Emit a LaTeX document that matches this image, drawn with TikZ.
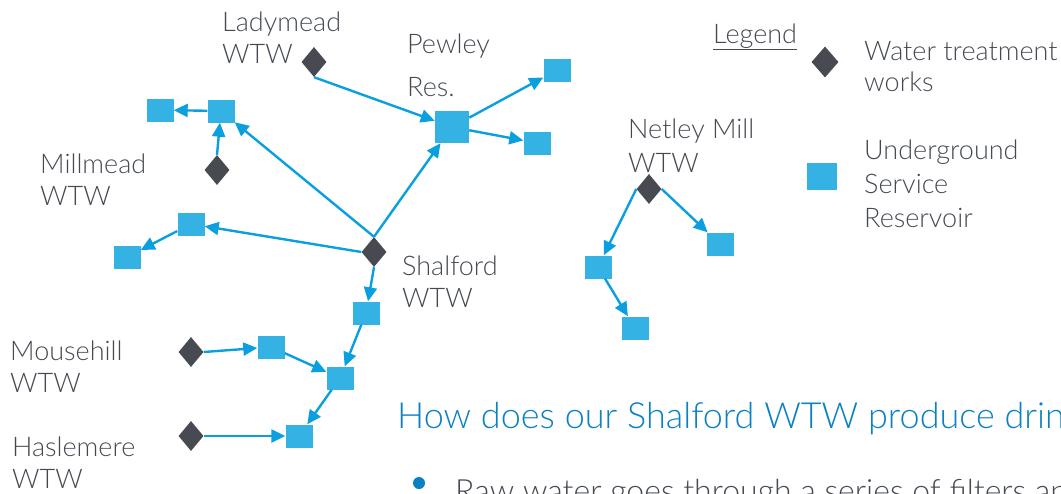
\documentclass[tikz,border=0pt]{standalone}
\usepackage{fontspec}
\setmainfont{Lato Light}
\usetikzlibrary{shapes.geometric,arrows.meta}

\definecolor{wtwgrey}{HTML}{474A50}
\definecolor{resblue}{HTML}{35B2E4}
\definecolor{pipeblue}{HTML}{0AA0E0}
\definecolor{labelgrey}{HTML}{454A52}
\definecolor{titleblue}{HTML}{0B80C2}

\tikzset{
  wtw/.style={diamond, fill=wtwgrey, inner sep=0pt, minimum width=25pt, minimum height=30pt},
  res/.style={rectangle, fill=resblue, inner sep=0pt, minimum width=27pt, minimum height=23pt},
  bigres/.style={res, minimum width=34pt, minimum height=32pt},
  pipe/.style={draw=pipeblue, line width=2.4pt, -{Triangle[length=14pt,width=13pt]}},
  % multi-line labels: the base anchor sits on the last line
  lbl/.style={anchor=base west, inner sep=0pt, align=left, text=labelgrey,
              font=\fontsize{27}{32}\selectfont},
}

\begin{document}
\begin{tikzpicture}[x=1pt,y=-1pt]
\useasboundingbox (0,0) rectangle (1061,493);
\clip (0,0) rectangle (1061,493);

% treatment works
\node[wtw] (lady)   at (314,62)  {};
\node[wtw] (mill)   at (217,170) {};
\node[wtw] (shal)   at (374,252) {};
\node[wtw] (mouse)  at (191,352) {};
\node[wtw] (has)    at (191,436) {};
\node[wtw] (netley) at (649,189) {};

% service reservoirs
\node[bigres] (pewley) at (452,127) {};
\node[res] (pewNE)    at (557,70)  {};
\node[res] (pewE)     at (537,143) {};
\node[res] (nwA)      at (221,111) {};
\node[res] (nwB)      at (160,110) {};
\node[res] (wA)       at (191,224) {};
\node[res] (wB)       at (127,257) {};
\node[res] (sA)       at (366,313) {};
\node[res] (sB)       at (340,378) {};
\node[res] (mouseres) at (271,347) {};
\node[res] (hasres)   at (299,436) {};
\node[res] (nE)       at (720,244) {};
\node[res] (nW)       at (598,267) {};
\node[res] (nS)       at (635,328) {};

% site labels
\node[lbl] (ladylbl)  at (222,63)  {Ladymead\\WTW};
\node[lbl, font=\fontsize{27}{43}\selectfont] (pewlbl) at (407,96) {Pewley\\Res.};
\node[lbl] (milllbl)  at (40,205)  {Millmead\\WTW};
\node[lbl] (shallbl)  at (402,307) {Shalford\\WTW};
\node[lbl] (mouselbl) at (10,392)  {Mousehill\\WTW};
\node[lbl] (haslbl)   at (12,488)  {Haslemere\\WTW};
\node[lbl, font=\fontsize{27}{34}\selectfont] (netlbl) at (628,172) {Netley Mill\\WTW};

% pipes
\draw[pipe] (lady.south) -- (pewley);
\draw[pipe] (pewley) -- (pewNE);
\draw[pipe] (pewley) -- (pewE);
\draw[pipe] (nwA) -- (nwB);
\draw[pipe] (mill.north) -- (nwA);
\draw[pipe] (shal.north) -- (nwA);
\draw[pipe] (shal.north) -- (pewley);
\draw[pipe] (shal.west) -- (wA);
\draw[pipe] (wA) -- (wB);
\draw[pipe] (shal.south) -- (sA);
\draw[pipe] (sA) -- (sB);
\draw[pipe] (mouse.east) -- (mouseres);
\draw[pipe] (mouseres) -- (sB);
\draw[pipe] (sB) -- (hasres);
\draw[pipe] (has.east) -- (hasres);
\draw[pipe] (netley.west) -- (nW);
\draw[pipe] (netley.east) -- (nE);
\draw[pipe] (nW) -- (nS);

% legend
\node[lbl] (legtitle) at (713,43) {\underline{Legend}};
\node[wtw, minimum width=27pt, minimum height=31pt] (legwtw) at (825,62) {};
\node[lbl, font=\fontsize{27}{31}\selectfont] (legwtwtxt) at (864,91) {Water treatment\\works};
\node[res, minimum width=30pt, minimum height=27pt] (legres) at (822,176) {};
\node[lbl, font=\fontsize{27}{34}\selectfont] (legrestxt) at (864,227) {Underground\\Service\\Reservoir};

% heading and first bullet
\node[anchor=base west, inner sep=0pt, text=titleblue, font=\fontsize{36}{40}\selectfont]
  (title) at (397,428) {How does our Shalford WTW produce drin};
\node[circle, fill=titleblue, minimum size=12pt, inner sep=0pt] (dot) at (419,483) {};
\node[anchor=base west, inner sep=0pt, text=labelgrey, font=\fontsize{32}{34}\selectfont]
  (bullet) at (455,502) {Raw water goes through a series of filters an};
\end{tikzpicture}
\end{document}
